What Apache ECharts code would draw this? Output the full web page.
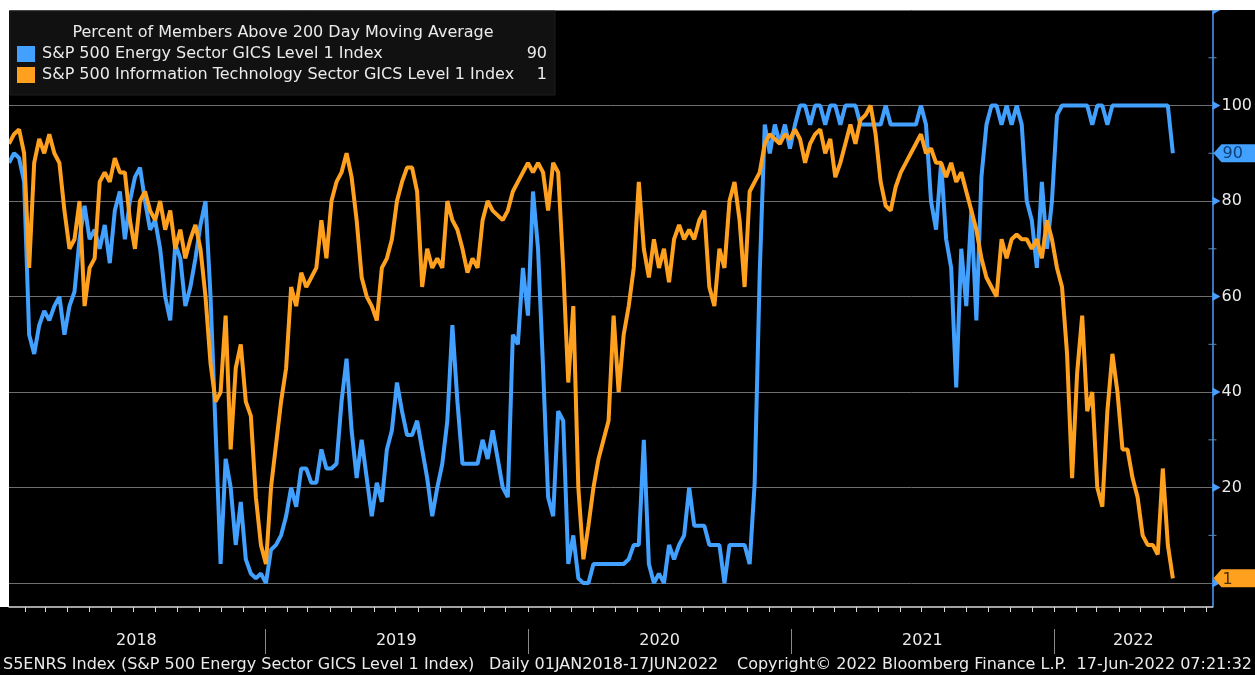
<!DOCTYPE html>
<html><head><meta charset="utf-8">
<script src="https://cdn.jsdelivr.net/npm/echarts@6/dist/echarts.min.js"></script>
<style>html,body{margin:0;padding:0;background:#000;}#c{width:1255px;height:675px;}</style>
</head><body><div id="c"></div><script>
// weekly samples starting at the left edge of the plot
const startDate = '2018-01-10';
const energy = [
88,90,89,84,52,48,54,57,55,58,
60,52,58,61,72,79,72,74,70,75,
67,78,82,72,80,85,87,80,74,76,
70,60,55,71,68,58,62,68,75,80,
60,32,4,26,20,8,17,5,2,1,
2,0,7,8,10,14,20,16,24,24,
21,21,28,24,24,25,38,47,32,22,
30,22,14,21,17,28,32,42,36,31,
31,34,28,22,14,20,25,34,54,38,
25,25,25,25,30,26,32,26,20,18,
52,50,66,56,82,70,45,18,14,36,
34,4,10,1,0,0,4,4,4,4,
4,4,4,5,8,8,30,4,0,2,
0,8,5,8,10,20,12,12,12,8,
8,8,0,8,8,8,8,4,21,65,
96,90,96,92,96,91,96,100,100,96,
100,100,96,100,100,96,100,100,100,96,
96,96,96,96,100,96,96,96,96,96,
96,100,96,80,74,88,72,66,41,70,
58,78,55,85,96,100,100,96,100,96,
100,96,80,76,66,84,70,80,98,100,
100,100,100,100,100,96,100,100,96,100,
100,100,100,100,100,100,100,100,100,100,
100,90];
const tech = [
92,94,95,90,66,88,93,90,94,90,
88,78,70,72,80,58,66,68,84,86,
84,89,86,86,76,70,80,82,78,76,
80,74,78,70,74,68,72,75,70,60,
46,38,40,56,28,45,50,38,35,18,
8,4,20,29,38,45,62,58,65,62,
64,66,76,68,80,84,86,90,85,76,
64,60,58,55,66,68,72,80,84,87,
87,82,62,70,66,68,66,80,76,74,
70,65,68,66,76,80,78,77,76,78,
82,84,86,88,86,88,86,78,88,86,
66,42,58,20,5,12,20,26,30,34,
56,40,52,58,66,84,70,64,72,66,
70,63,72,75,72,74,72,76,78,62,
58,70,66,80,84,76,62,82,84,86,
92,94,93,92,94,93,95,93,88,92,
94,95,90,93,85,88,92,96,92,97,
98,100,94,84,79,78,83,86,88,90,
92,94,90,91,88,88,85,88,84,86,
82,78,74,68,64,62,60,72,68,72,
73,72,72,70,72,68,76,72,66,62,
48,22,44,56,36,40,20,16,36,48,
40,28,28,22,18,10,8,8,6,24,
8,1];
const seriesNames = ['S&P 500 Energy Sector GICS Level 1 Index','S&P 500 Information Technology Sector GICS Level 1 Index'];
const chartTitle = 'Percent of Members Above 200 Day Moving Average';
const yMajor = [0,20,40,60,80,100,120];
const yLabelVals = [0,20,40,60,80,100];
const yMinor = [10,30,50,70,90,110];
const yearStarts = ['2019-01-01','2020-01-01','2021-01-01','2022-01-01'];
const yearLabelDates = ['2018-07-06','2019-07-02','2020-07-02','2021-07-02','2022-04-21'];
const xMinDate = '2018-01-10', xMaxDate = '2022-08-09';
const footer = ['S5ENRS Index (S&P 500 Energy Sector GICS Level 1 Index)','Daily 01JAN2018-17JUN2022','Copyright\u00A9 2022 Bloomberg Finance L.P.','17-Jun-2022 07:21:32'];

const BLUE = '#42a0ff', ORANGE = '#ffa11f', TXT = '#ebebeb';
const FONT = '"DejaVu Sans", Verdana, sans-serif';
const F16 = '16px ' + FONT;
const DAY = 86400000;
const ts = s => Date.parse(s + 'T00:00:00Z');
const t0 = ts(startDate);
const dates = energy.map((_, i) => t0 + i * 7 * DAY);
const xMin = ts(xMinDate), xMax = ts(xMaxDate);
const monthTicks = [];
for (let y = 2018; y <= 2022; y++) for (let m = 0; m < 12; m++) {
  const t = Date.UTC(y, m, 1);
  if (t > xMin && t < xMax) monthTicks.push(t);
}
const lastE = energy[energy.length - 1], lastT = tech[tech.length - 1];
const tags = [
  {v: lastE, text: String(lastE), color: BLUE, tc: '#0d3f7a'},
  {v: lastT, text: String(lastT), color: ORANGE, tc: '#4a2f00'}
];

const chart = echarts.init(document.getElementById('c'), null, {renderer: 'canvas'});
chart.setOption({
  backgroundColor: '#000',
  animation: false,
  grid: {left: 9, right: 42, top: 10, bottom: 68},
  xAxis: [{
    type: 'value', min: xMin, max: xMax,
    axisLine: {show: true, onZero: false, lineStyle: {color: '#d8d8d8', width: 1.5}},
    axisTick: {show: true, customValues: monthTicks, length: 5, lineStyle: {color: '#d8d8d8'}},
    axisLabel: {show: true, customValues: yearLabelDates.map(ts), margin: 26, color: TXT, fontSize: 16, fontFamily: FONT,
      formatter: v => String(new Date(v).getUTCFullYear())},
    splitLine: {show: false}
  }, {
    type: 'value', min: xMin, max: xMax, position: 'bottom', offset: 22,
    axisLine: {show: false, onZero: false},
    axisTick: {show: true, customValues: yearStarts.map(ts), length: 25, lineStyle: {color: '#8a8a8a'}},
    axisLabel: {show: false}, splitLine: {show: false}
  }],
  yAxis: {
    type: 'value', position: 'right', min: -5, max: 120,
    axisLine: {show: true, lineStyle: {color: '#4a9eff', width: 1.5}},
    axisTick: {show: false},
    axisLabel: {show: true, customValues: yLabelVals, color: TXT, fontSize: 16, fontFamily: FONT, margin: 9},
    splitLine: {show: false}
  },
  graphic: [
    {type: 'rect', shape: {x: 0, y: 0, width: 1255, height: 10}, style: {fill: '#fff'}, z: 100},
    {type: 'rect', shape: {x: 0, y: 0, width: 9, height: 607}, style: {fill: '#fff'}, z: 100},
    {type: 'rect', shape: {x: 10, y: 11, width: 545, height: 84}, style: {fill: '#111111', stroke: '#1e1e1e', lineWidth: 1}, z: 50},
    {type: 'text', x: 283, y: 33, z: 51, style: {text: chartTitle, fill: TXT, font: F16, align: 'center', verticalAlign: 'middle'}},
    {type: 'rect', shape: {x: 17, y: 46, width: 18, height: 16}, style: {fill: BLUE}, z: 51},
    {type: 'text', x: 42, y: 54, z: 51, style: {text: seriesNames[0], fill: TXT, font: F16, align: 'left', verticalAlign: 'middle'}},
    {type: 'text', x: 547, y: 54, z: 51, style: {text: String(lastE), fill: TXT, font: F16, align: 'right', verticalAlign: 'middle'}},
    {type: 'rect', shape: {x: 17, y: 67, width: 18, height: 16}, style: {fill: ORANGE}, z: 51},
    {type: 'text', x: 42, y: 75, z: 51, style: {text: seriesNames[1], fill: TXT, font: F16, align: 'left', verticalAlign: 'middle'}},
    {type: 'text', x: 547, y: 75, z: 51, style: {text: String(lastT), fill: TXT, font: F16, align: 'right', verticalAlign: 'middle'}},
    {type: 'text', x: 3, y: 665, style: {text: footer[0], fill: TXT, font: F16, align: 'left', verticalAlign: 'middle'}},
    {type: 'text', x: 489, y: 665, style: {text: footer[1], fill: TXT, font: F16, align: 'left', verticalAlign: 'middle'}},
    {type: 'text', x: 737, y: 665, style: {text: footer[2], fill: TXT, font: F16, align: 'left', verticalAlign: 'middle'}},
    {type: 'text', x: 1252, y: 665, style: {text: footer[3], fill: TXT, font: F16, align: 'right', verticalAlign: 'middle'}}
  ],
  series: [
    {
      name: seriesNames[0], type: 'line', showSymbol: false, z: 3,
      data: dates.map((d, i) => [d, energy[i]]),
      lineStyle: {color: BLUE, width: 4}, itemStyle: {color: BLUE},
      markLine: {silent: true, symbol: 'none', label: {show: false}, z: 1,
        lineStyle: {color: '#6e6e6e', width: 1, type: 'solid'},
        data: yMajor.map(v => ({yAxis: v}))}
    },
    {
      name: seriesNames[1], type: 'line', showSymbol: false, z: 4,
      data: dates.map((d, i) => [d, tech[i]]),
      lineStyle: {color: ORANGE, width: 4}, itemStyle: {color: ORANGE}
    },
    {
      type: 'custom', clip: false, z: 20, silent: true,
      data: yMajor.map(v => [xMax, v, 1]).concat(yMinor.map(v => [xMax, v, 0])),
      encode: {x: 0, y: 1},
      renderItem: (params, api) => {
        const cs = params.coordSys;
        const y = api.coord([api.value(0), api.value(1)])[1];
        const x = cs.x + cs.width;
        if (api.value(2) === 1) {
          return {type: 'polygon', shape: {points: [[x, y - 4.5], [x + 8, y], [x, y + 4.5]]}, style: {fill: '#4a9eff'}};
        }
        return {type: 'line', shape: {x1: x - 4, y1: y, x2: x + 4, y2: y}, style: {stroke: '#5d86b3', lineWidth: 1}};
      }
    },
    {
      type: 'custom', clip: false, z: 30, silent: true,
      data: tags.map(t => [xMax, t.v]),
      encode: {x: 0, y: 1},
      renderItem: (params, api) => {
        const cs = params.coordSys;
        const y = api.coord([api.value(0), api.value(1)])[1];
        const x = cs.x + cs.width + 1;
        const t = tags[params.dataIndex];
        return {type: 'group', children: [
          {type: 'polygon', shape: {points: [[x, y], [x + 8, y - 9], [x + 45, y - 9], [x + 45, y + 9], [x + 8, y + 9]]}, style: {fill: t.color}},
          {type: 'text', style: {text: t.text, x: x + 9, y: y + 1, fill: t.tc, font: F16, align: 'left', verticalAlign: 'middle'}}
        ]};
      }
    }
  ]
});
</script></body></html>
